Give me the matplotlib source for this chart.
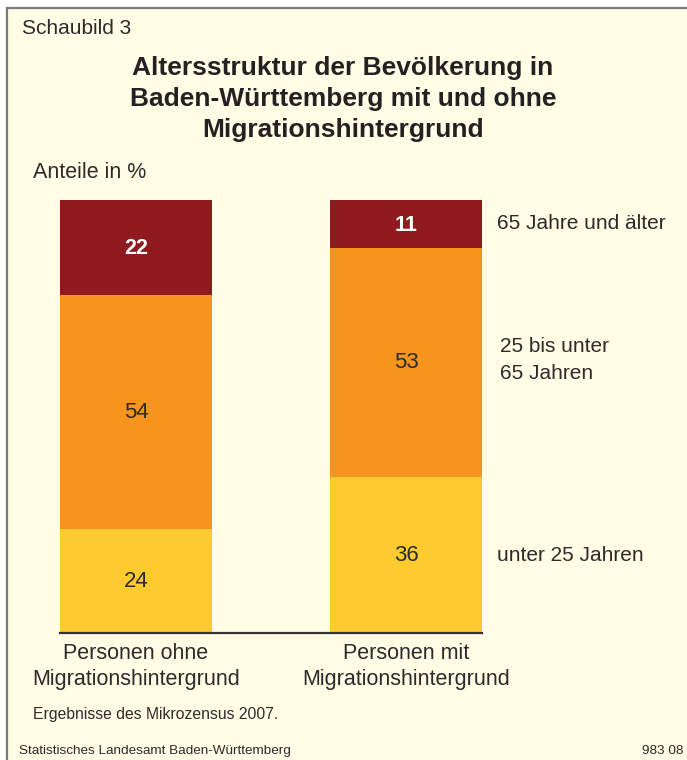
import matplotlib
matplotlib.use("Agg")
import matplotlib.pyplot as plt
from matplotlib.patches import Rectangle
import numpy as np

categories = ["Personen ohne\nMigrationshintergrund", "Personen mit\nMigrationshintergrund"]
series_names = ["unter 25 Jahren", "25 bis unter\n65 Jahren", "65 Jahre und älter"]
unter25 = [24, 36]
mitte = [54, 53]
ueber65 = [22, 11]
colors = ["#FDCA30", "#F7941D", "#8F1B1F"]
bg = "#FFFDE6"
txt = "#2b2b2b"

plt.rcParams['font.family'] = ['Liberation Sans', 'DejaVu Sans']

W, H = 687, 760
fig = plt.figure(figsize=(W/100, H/100), dpi=100)
fig.patch.set_facecolor("white")

# background panel with border
fig.patches.append(Rectangle((7/W, 0), 1 - 7/W, 1 - 8/H, transform=fig.transFigure,
                             facecolor=bg, edgecolor="none", zorder=-10))
fig.add_artist(plt.Line2D([7/W, 1], [1 - 8/H, 1 - 8/H], transform=fig.transFigure, color="#7a7a7a", lw=1.6))
fig.add_artist(plt.Line2D([7/W, 7/W], [0, 1 - 8/H], transform=fig.transFigure, color="#7a7a7a", lw=1.6))

# axes placement in pixels
left_px, right_px = 60, 482
top_px, bot_px = 200, 633
ax = fig.add_axes([left_px/W, (H - bot_px)/H, (right_px - left_px)/W, (bot_px - top_px)/H])
ax.set_facecolor("none")

x = np.arange(len(categories))
width = 152/270
series = [unter25, mitte, ueber65]
bottom = np.zeros(len(categories))
for vals, c in zip(series, colors):
    ax.bar(x, vals, width=width, bottom=bottom, color=c, edgecolor="none")
    bottom += np.array(vals)

half = width/2
ax.set_xlim(-half, 1 + half)
ax.set_ylim(0, 100)
for s in ["top", "right", "left"]:
    ax.spines[s].set_visible(False)
ax.spines["bottom"].set_color("#333333")
ax.spines["bottom"].set_linewidth(1.6)
ax.set_yticks([])
ax.set_xticks(x)
ax.set_xticklabels(categories, fontsize=15.5, color=txt, linespacing=1.3)
ax.tick_params(axis="x", length=0, pad=7)

# value labels
bottom = np.zeros(len(categories))
for k, (vals, c) in enumerate(zip(series, colors)):
    for i, v in enumerate(vals):
        yc = bottom[i] + v/2
        if k == 2:
            ax.text(x[i], yc - 0.3, str(v), ha="center", va="center", fontsize=15.5,
                    color="white", fontweight="bold")
        else:
            ax.text(x[i], yc, str(v), ha="center", va="center", fontsize=16, color=txt)
    bottom += np.array(vals)

# right-side segment labels at the right bar's segment midpoints
bottom = 0
for k, vals in enumerate(series):
    yc = bottom + vals[1]/2
    xoff = 1 + half + 15/270
    if k == 1:
        xoff = 1 + half + 18/270
        yc += 0.5
    ax.text(xoff, yc, series_names[k], ha="left", va="center", fontsize=15,
            color=txt, linespacing=1.5, clip_on=False)
    bottom += vals[1]

fig.text(22/W, 1 - 28/H, "Schaubild 3", fontsize=15, color=txt, ha="left", va="center")
fig.text(343/W, 1 - 99/H,
         "Altersstruktur der Bevölkerung in\nBaden-Württemberg mit und ohne\nMigrationshintergrund",
         fontsize=19, fontweight="bold", color="#222222", ha="center", va="center", linespacing=1.37)
fig.text(33/W, 1 - 172/H, "Anteile in %", fontsize=15.5, color=txt, ha="left", va="center")
fig.text(33/W, 1 - 714/H, "Ergebnisse des Mikrozensus 2007.", fontsize=11.3, color=txt, ha="left", va="center")
fig.text(19/W, 1 - 751/H, "Statistisches Landesamt Baden-Württemberg", fontsize=9.7, color=txt, ha="left", va="center")
fig.text(684/W, 1 - 751/H, "983 08", fontsize=9.7, color=txt, ha="right", va="center")

fig.savefig("out.png", dpi=100, facecolor=fig.get_facecolor())
